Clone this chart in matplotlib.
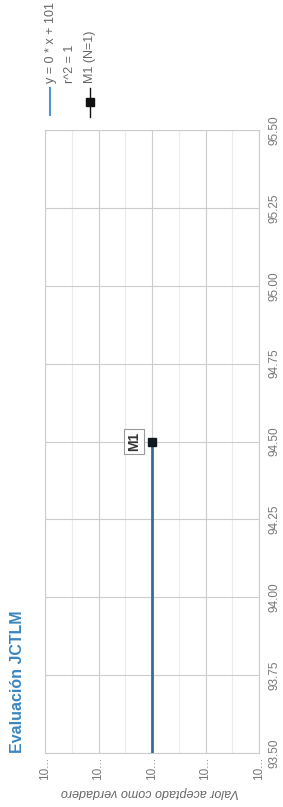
import matplotlib
matplotlib.use("Agg")
from matplotlib import pyplot as plt
from matplotlib.lines import Line2D

plt.rcParams['font.family'] = ['Liberation Sans', 'DejaVu Sans']

# data (chart is drawn rotated 90 degrees, like the reference)
x_vals = [94.5]
y_vals = [101.0]
point_labels = ["M1"]
fit_slope = 0.0
fit_intercept = 101.0

x_ticks = [93.50, 93.75, 94.00, 94.25, 94.50, 94.75, 95.00, 95.25, 95.50]
x_ticklabels = ["93.50", "93.75", "94.00", "94.25", "94.50", "94.75", "95.00", "95.25", "95.50"]
y_ticks = [100.98, 100.99, 101.00, 101.01, 101.02]
y_minor = [100.985, 100.995, 101.005, 101.015]
y_ticklabels = ["10...", "10...", "10...", "10...", "10..."]

legend_fit = ["y = 0 * x + 101", "r^2 = 1"]
legend_series = "M1 (N=1)"

W, H = 283, 807
fig = plt.figure(figsize=(W / 100, H / 100), dpi=100)
ax = fig.add_axes([45 / W, (H - 753) / H, (259 - 45) / W, (753 - 130) / H])

# original x runs upward, original y runs leftward
ax.set_ylim(x_ticks[0], x_ticks[-1])
ax.set_xlim(y_ticks[-1], y_ticks[0])

fit_x = [x_ticks[0], max(x_vals)]
fit_y = [fit_slope * v + fit_intercept for v in fit_x]
ax.plot(fit_y, fit_x, color='#2f7099', lw=2, zorder=3)
ax.plot(y_vals, x_vals, ls='none', marker='s', ms=5.5, color='#101820', zorder=4)

for xv, yv, lab in zip(x_vals, y_vals, point_labels):
    ax.annotate(lab, xy=(yv, xv), xytext=(-18, 0), textcoords='offset pixels',
                rotation=90, ha='center', va='center', fontsize=10, weight='bold',
                color='#333333',
                bbox=dict(boxstyle='square,pad=0.2', fc='white', ec='#999999', lw=0.8))

ax.yaxis.tick_right()
ax.set_yticks(x_ticks)
ax.set_yticklabels(x_ticklabels, rotation=90, va='center', ha='left')
ax.set_xticks(y_ticks)
ax.set_xticklabels(y_ticklabels, rotation=90, va='top', ha='center')
ax.set_xticks(y_minor, minor=True)
ax.tick_params(axis='both', which='both', length=0, labelsize=8.5, labelcolor='#777777')
ax.tick_params(axis='y', pad=7)
ax.tick_params(axis='x', pad=3)

ax.grid(which='major', color='#cccccc', lw=0.8)
ax.grid(which='minor', axis='x', color='#ececec', lw=0.8)
ax.set_axisbelow(True)
for s in ax.spines.values():
    s.set_color('#cccccc')
    s.set_linewidth(0.8)

ax.set_xlabel("Valor aceptado como verdadero", rotation=180, style='italic',
              fontsize=9, color='#666666', va='center')
ax.xaxis.set_label_coords((150 - 45) / 214, -(792 - 753) / 623)

fig.text(17.5 / W, (H - 753) / H, "Evaluación JCTLM", rotation=90, ha='center',
         va='bottom', fontsize=11.5, weight='bold', color='#3a86c0')

# legend drawn by hand, rotated
fig.add_artist(Line2D([50 / W, 50 / W], [1 - 88 / H, 1 - 115 / H],
                      transform=fig.transFigure, color='#4f97d0', lw=1.5))
fig.text(51 / W, 1 - 83 / H, legend_fit[0], rotation=90, ha='center', va='bottom',
         fontsize=9, color='#666666')
fig.text(70 / W, 1 - 83 / H, legend_fit[1], rotation=90, ha='center', va='bottom',
         fontsize=9, color='#666666')
fig.add_artist(Line2D([90 / W, 90 / W], [1 - 88 / H, 1 - 117 / H],
                      transform=fig.transFigure, color='#111111', lw=1))
fig.add_artist(Line2D([90 / W], [1 - 102 / H], transform=fig.transFigure,
                      marker='s', ms=5.5, color='#111111', ls='none'))
fig.text(90 / W, 1 - 83 / H, legend_series, rotation=90, ha='center', va='bottom',
         fontsize=9, color='#666666')

fig.savefig("out.png", dpi=100)
